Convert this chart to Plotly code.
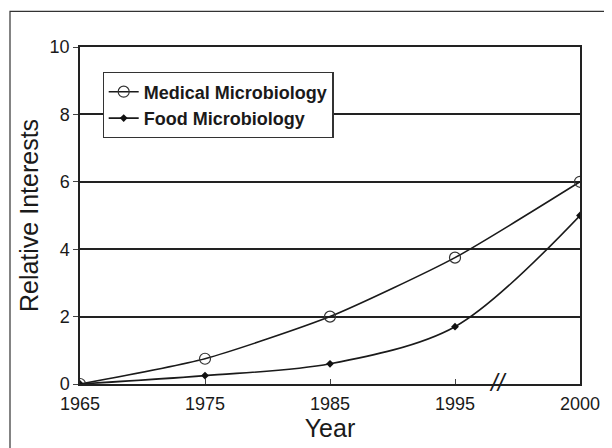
import plotly.graph_objects as go

years = ["1965", "1975", "1985", "1995", "2000"]
medical = [0.0, 0.75, 2.0, 3.75, 6.0]
food = [0.0, 0.25, 0.6, 1.7, 5.0]
y_ticks = [0, 2, 4, 6, 8, 10]

fig = go.Figure()
fig.add_trace(go.Scatter(
    x=years, y=medical, name="Medical Microbiology",
    mode="lines+markers", line=dict(color="#1a1a1a", width=1.6, shape="spline", smoothing=0.6),
    marker=dict(symbol="circle-open", size=11, color="#333333", line=dict(width=1.2)),
))
fig.add_trace(go.Scatter(
    x=years, y=food, name="Food Microbiology",
    mode="lines+markers", line=dict(color="#1a1a1a", width=1.6, shape="spline", smoothing=0.9),
    marker=dict(symbol="diamond", size=6, color="#111111"),
))

font_family = "Liberation Sans, Arial, sans-serif"
fig.update_layout(
    width=604, height=440,
    margin=dict(l=72, r=22, t=39, b=63),
    paper_bgcolor="white", plot_bgcolor="white",
    font=dict(family=font_family, color="#1a1a1a", size=18),
    showlegend=True,
    legend=dict(
        x=0.045, y=0.925, xanchor="left", yanchor="top",
        bgcolor="white", bordercolor="#333333", borderwidth=1.2,
        font=dict(size=18, family=font_family, color="#1a1a1a", weight="bold"),
        tracegroupgap=2, itemwidth=30,
    ),
    xaxis=dict(
        type="category", range=[0, 4],
        showline=True, linecolor="#222222", linewidth=1.5, mirror=True,
        ticks="inside", ticklen=5, tickcolor="#444444",
        showgrid=False, zeroline=False, ticklabelstandoff=3,
        title=dict(text="Year", font=dict(size=25), standoff=4),
        tickfont=dict(size=18),
    ),
    yaxis=dict(
        range=[0, 10], tickvals=y_ticks,
        showline=True, linecolor="#222222", linewidth=1.5, mirror=True,
        ticks="outside", ticklen=5, tickcolor="#444444",
        showgrid=True, gridcolor="#222222", gridwidth=1.5, zeroline=False,
        title=dict(text="Relative Interests", font=dict(size=25), standoff=4),
        tickfont=dict(size=18),
    ),
    shapes=[
        dict(type="rect", xref="paper", yref="paper", x0=-0.14, x1=1.054, y0=-0.3, y1=1.106,
             line=dict(color="#333333", width=1.2), layer="below"),
    ],
    annotations=[
        dict(x=3.34, y=0, xref="x", yref="y", text="<i>//</i>", showarrow=False,
             font=dict(size=24, color="#1a1a1a", family=font_family), yshift=2),
    ],
)

fig.write_html("out.html")
